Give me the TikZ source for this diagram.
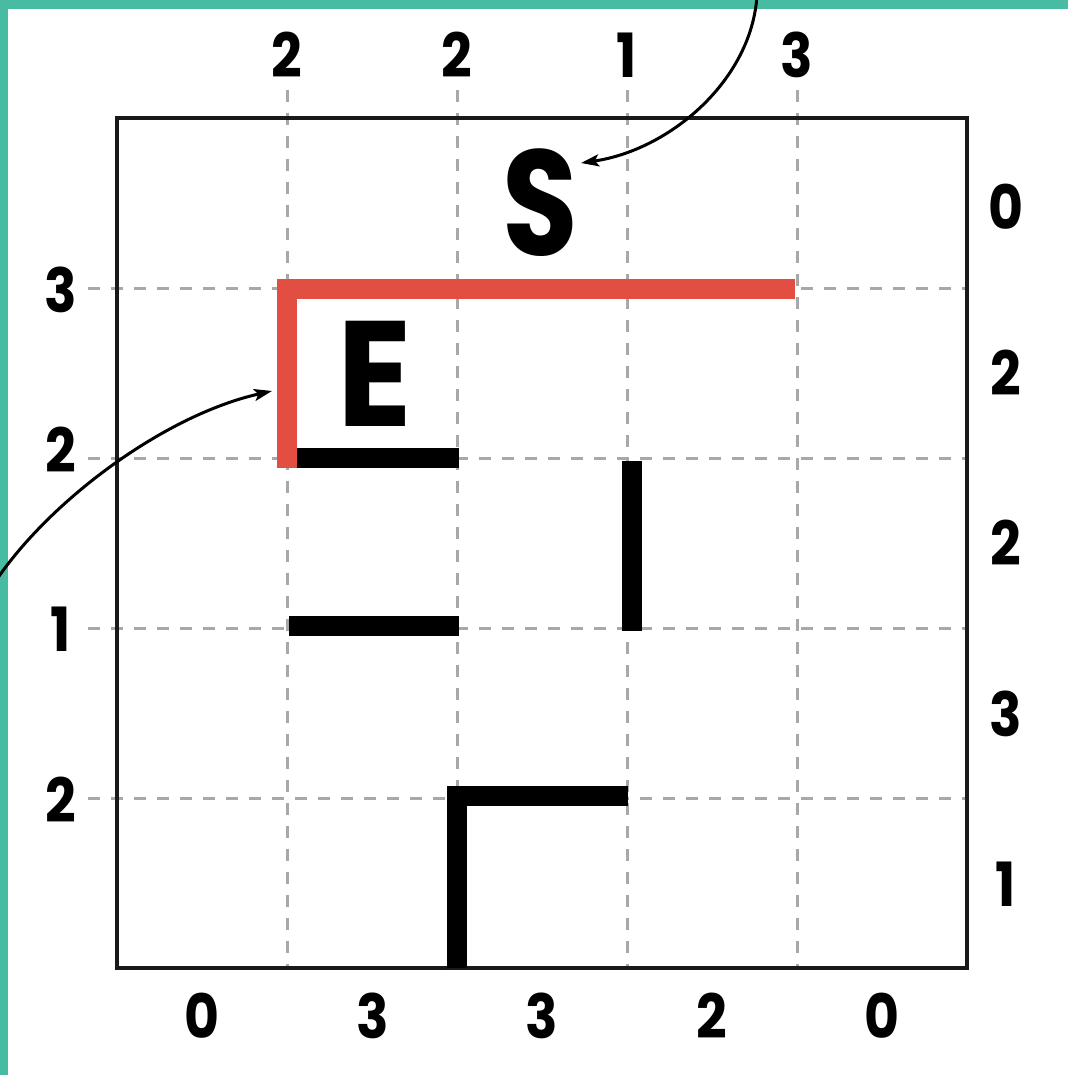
\documentclass[tikz,border=0pt]{standalone}
\usepackage{fontspec}
\setmainfont{Poppins}
\usetikzlibrary{arrows.meta}
\definecolor{tealb}{HTML}{48BBA3}
\definecolor{wallred}{HTML}{E34E42}
\definecolor{gridgray}{HTML}{A8A8A8}
\newcommand{\narrow}[2]{\scalebox{#1}[1]{#2}}
\tikzset{
  gridline/.style={draw=gridgray, line width=3pt, dash pattern=on 12pt off 11pt},
  wall/.style={draw=black, line width=20pt, line join=miter, line cap=butt},
  redwall/.style={draw=wallred, line width=20pt, line join=miter, line cap=butt},
  clue/.style={font=\fontsize{61}{63}\selectfont\bfseries, inner sep=0pt, anchor=center},
  big/.style={font=\fontsize{150}{152}\selectfont\bfseries, inner sep=0pt, anchor=center},
  pointer/.style={draw=black, line width=3pt, -{Stealth[length=18pt, width=12pt, inset=4pt]}}
}
\begin{document}
\begin{tikzpicture}[x=1pt, y=-1pt]
\useasboundingbox (0,0) rectangle (1068,1075);
\fill[white] (0,0) rectangle (1068,1075);
\fill[tealb] (0,0) rectangle (1068,9);
\fill[tealb] (0,0) rectangle (7.5,1075);
% dashed grid
\foreach \x in {287,457,627,797} \draw[gridline] (\x,90) -- (\x,968);
\foreach \y in {288,458,628,798} \draw[gridline] (88,\y) -- (967,\y);
% frame
\draw[line width=3.2pt, draw=black!90] (117,118) rectangle (967,968);
% walls
\draw[wall] (287,458) -- (459,458);
\draw[wall] (289,626) -- (459,626);
\draw[wall] (631.5,461) -- (631.5,631);
\draw[wall] (457,968) -- (457,796) -- (628,796);
\draw[redwall] (287,468) -- (287,289) -- (795,289);
% letters
\node[big] (S) at (540,203) {\narrow{0.82}{S}};
\node[big] (E) at (375,374) {\narrow{0.92}{E}};
% top clues
\node[clue] (t1) at (287,55) {\narrow{0.88}{2}};
\node[clue] (t2) at (457,55) {\narrow{0.88}{2}};
\node[clue] (t3) at (627,55) {\narrow{0.88}{1}};
\node[clue] (t4) at (797,55) {\narrow{0.88}{3}};
% left clues
\node[clue] (l1) at (61,290) {\narrow{0.88}{3}};
\node[clue] (l2) at (61,450) {\narrow{0.88}{2}};
\node[clue] (l3) at (61,629) {\narrow{0.88}{1}};
\node[clue] (l4) at (61,800) {\narrow{0.88}{2}};
% right clues
\node[clue] (r1) at (1006,207) {\narrow{0.88}{0}};
\node[clue] (r2) at (1006,373) {\narrow{0.88}{2}};
\node[clue] (r3) at (1006,543) {\narrow{0.88}{2}};
\node[clue] (r4) at (1006,714) {\narrow{0.88}{3}};
\node[clue] (r5) at (1006,884) {\narrow{0.88}{1}};
% bottom clues
\node[clue] (b1) at (202,1016) {\narrow{0.88}{0}};
\node[clue] (b2) at (373,1016) {\narrow{0.88}{3}};
\node[clue] (b3) at (542,1016) {\narrow{0.88}{3}};
\node[clue] (b4) at (712,1016) {\narrow{0.88}{2}};
\node[clue] (b5) at (882,1016) {\narrow{0.88}{0}};
% pointers
\coordinate (topstart) at (757,-5);
\coordinate (stip) at (581,163);
\coordinate (leftstart) at (-5,582);
\coordinate (etip) at (272,391);
\draw[pointer] (topstart) .. controls (752,80) and (670,150) .. (stip);
\draw[pointer] (leftstart) .. controls (50,500) and (165,415) .. (etip);
\end{tikzpicture}
\end{document}
